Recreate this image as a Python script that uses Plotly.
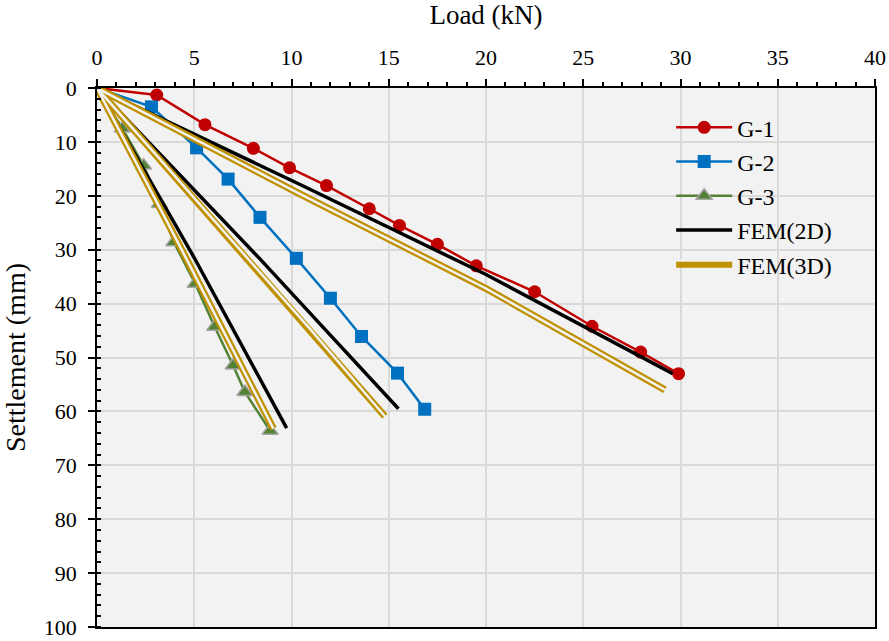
import plotly.graph_objects as go

# Measured load-settlement results
load_g1 = [0, 3.07, 5.55, 8.04, 9.9, 11.8, 14.0, 15.55, 17.5, 19.5, 22.5, 25.45, 27.95, 29.9]
sett_g1 = [0, 1.3, 6.8, 11.2, 14.8, 18.1, 22.4, 25.5, 29.0, 33.0, 37.8, 44.2, 49.0, 53.0]

load_g2 = [0, 2.8, 5.12, 6.74, 8.38, 10.25, 12.0, 13.6, 15.45, 16.85]
sett_g2 = [0, 3.5, 11.1, 16.9, 24.0, 31.6, 39.0, 46.1, 52.9, 59.6]

load_g3 = [0, 1.3, 2.4, 3.2, 3.95, 5.05, 6.05, 7.0, 7.6, 8.9]
sett_g3 = [0, 7.5, 14.4, 21.5, 28.6, 36.3, 44.3, 51.5, 56.4, 63.6]

# Finite element predictions (one curve per test)
fem2d_load = [[0, 10.44, 20.0, 29.6], [0, 8.4, 11.7, 15.5], [0, 5.0, 9.75]]
fem2d_sett = [[0, 17.9, 34.6, 53.0], [0, 31.8, 44.7, 59.5], [0, 31.5, 63.1]]

fem3d_load = [[0, 10.4, 20.0, 29.2], [0, 10.95, 14.8], [0, 4.5, 9.07]]
fem3d_sett = [[0, 19.6, 37.2, 56.0], [0, 44.7, 60.9], [0, 31.0, 63.2]]

x_ticks = [0, 5, 10, 15, 20, 25, 30, 35, 40]
y_ticks = [0, 10, 20, 30, 40, 50, 60, 70, 80, 90, 100]

BG = "#f2f2f2"
GOLD = "#bf9000"
FONT = "Liberation Serif, Times New Roman, serif"


def joined(groups):
    """Concatenate several curves into one list separated by gaps."""
    out = []
    for i, g in enumerate(groups):
        if i:
            out.append(None)
        out.extend(g)
    return out


fig = go.Figure()

fig.add_trace(go.Scatter(
    x=load_g1, y=sett_g1, name="G-1", mode="lines+markers",
    line=dict(color="#c00000", width=2.5),
    marker=dict(symbol="circle", size=13, color="#c00000"),
))
fig.add_trace(go.Scatter(
    x=load_g2, y=sett_g2, name="G-2", mode="lines+markers",
    line=dict(color="#0070c0", width=2.5),
    marker=dict(symbol="square", size=13, color="#0070c0"),
))
fig.add_trace(go.Scatter(
    x=load_g3, y=sett_g3, name="G-3", mode="lines+markers",
    line=dict(color="#548235", width=2.5),
    marker=dict(symbol="triangle-up", size=14, color="#548235",
                line=dict(color="#a5a5a5", width=1.5)),
))
fig.add_trace(go.Scatter(
    x=joined(fem2d_load), y=joined(fem2d_sett), name="FEM(2D)", mode="lines",
    line=dict(color="black", width=3.5),
))
# FEM(3D): a gold double line (wide gold stroke with a thin background-coloured core)
fig.add_trace(go.Scatter(
    x=joined(fem3d_load), y=joined(fem3d_sett), name="FEM(3D)", mode="lines",
    line=dict(color=GOLD, width=7),
))
fig.add_trace(go.Scatter(
    x=joined(fem3d_load), y=joined(fem3d_sett), name=" ", mode="lines",
    line=dict(color=BG, width=2.5), legend="legend2",
))

axis_common = dict(
    showline=True, linecolor="black", linewidth=1.5, mirror=True,
    showgrid=True, gridcolor="#d9d9d9", gridwidth=1.5,
    zeroline=False, ticks="outside", ticklen=7, tickwidth=1.5, tickcolor="black",
    tickfont=dict(family=FONT, size=22, color="black"),
    ticklabeloverflow="allow", automargin=False,
)

fig.update_xaxes(
    **axis_common,
    side="top", range=[0, 40], tickvals=x_ticks, ticklabelstandoff=5,
    minor=dict(dtick=1, ticks="outside", ticklen=4, tickwidth=1.5,
               tickcolor="black", showgrid=False),
    title=dict(text="Load (kN)", font=dict(family=FONT, size=27, color="black"),
               standoff=15),
)
fig.update_yaxes(
    **axis_common,
    range=[100, 0], tickvals=y_ticks, ticklabelstandoff=7,
    minor=dict(dtick=2, ticks="inside", ticklen=4, tickwidth=1.5,
               tickcolor="black", showgrid=False),
    title=dict(text="Settlement (mm)", font=dict(family=FONT, size=28, color="black"),
               standoff=13),
)

legend_x = 0.738
legend_font = dict(family=FONT, size=24, color="black")
fig.update_layout(
    width=889, height=641,
    margin=dict(l=97, r=14, t=88, b=14),
    paper_bgcolor="white", plot_bgcolor=BG,
    font=dict(family=FONT, color="black"),
    legend=dict(
        x=legend_x, y=0.968, xanchor="left", yanchor="top",
        bgcolor="rgba(0,0,0,0)", borderwidth=0, font=legend_font,
        itemwidth=56, traceorder="normal", tracegroupgap=0,
    ),
    legend2=dict(
        x=legend_x, y=0.679, xanchor="left", yanchor="middle",
        bgcolor="rgba(0,0,0,0)", borderwidth=0, font=legend_font,
        itemwidth=56,
    ),
)

fig.write_html("out.html")
